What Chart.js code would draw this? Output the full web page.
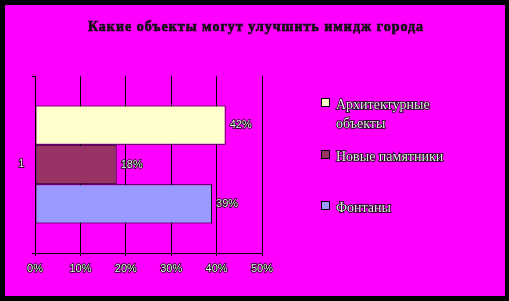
<!DOCTYPE html>
<html>
<head>
<meta charset="utf-8">
<script src="https://cdn.jsdelivr.net/npm/chart.js@4/dist/chart.umd.min.js"></script>
<style>
  html, body { margin: 0; padding: 0; background: #000; }
  canvas { display: block; }
</style>
</head>
<body>
<canvas id="c" width="509" height="301"></canvas>
<script>
// Survey: which objects can improve the city's image (share of answers, %)
const chartTitle = 'Какие объекты могут улучшить имидж города';
const categories = ['1'];
const seriesNames = ['Архитектурные объекты', 'Новые памятники', 'Фонтаны'];
const seriesValues = [[42], [18], [39]];
const seriesColors = ['#FFFFCC', '#993366', '#9999FF'];
const tickValues = [0, 10, 20, 30, 40, 50];

const MAGENTA = '#FF00FF';

// outlined text: black edge, light fill
function outlinedText(ctx, text, x, y, fill) {
  ctx.lineWidth = 1.5;
  ctx.strokeStyle = '#000';
  ctx.strokeText(text, x, y);
  ctx.fillStyle = fill;
  ctx.fillText(text, x, y);
}

const framePlugin = {
  id: 'frame',
  beforeDraw(chart) {
    const ctx = chart.ctx;
    ctx.save();
    ctx.fillStyle = '#000';
    ctx.fillRect(0, 0, chart.width, chart.height);
    ctx.fillStyle = MAGENTA;
    ctx.fillRect(5, 5, chart.width - 9, chart.height - 10);
    ctx.restore();
  }
};

const titlePlugin = {
  id: 'titleText',
  afterDraw(chart) {
    const ctx = chart.ctx;
    ctx.save();
    ctx.font = 'bold 14px "Liberation Serif", "Times New Roman", serif';
    ctx.letterSpacing = '1px';
    ctx.textAlign = 'center';
    ctx.textBaseline = 'middle';
    ctx.lineWidth = 0.6;
    ctx.strokeStyle = '#000';
    ctx.strokeText(chartTitle, 256, 27);
    ctx.fillStyle = '#111';
    ctx.fillText(chartTitle, 256, 27);
    ctx.restore();
  }
};

const valueLabelPlugin = {
  id: 'valueLabels',
  afterDatasetsDraw(chart) {
    const ctx = chart.ctx;
    ctx.save();
    ctx.font = '11px "Liberation Sans", Arial, sans-serif';
    ctx.textAlign = 'left';
    ctx.textBaseline = 'middle';
    chart.data.datasets.forEach((ds, i) => {
      const meta = chart.getDatasetMeta(i);
      meta.data.forEach((el, j) => {
        outlinedText(ctx, ds.data[j] + '%', el.x + 4, el.y, '#f0f0f0');
      });
    });
    ctx.restore();
  }
};

const legendPlugin = {
  id: 'sideLegend',
  afterDraw(chart) {
    const ctx = chart.ctx;
    const rows = [103, 155, 206];
    const boxX = 321, textX = 336, maxWidth = 130, lineH = 19;
    ctx.save();
    ctx.font = '14px "Liberation Serif", "Times New Roman", serif';
    ctx.textBaseline = 'middle';
    ctx.textAlign = 'left';
    chart.data.datasets.forEach((ds, i) => {
      const cy = rows[i];
      ctx.fillStyle = ds.backgroundColor;
      ctx.fillRect(boxX, cy - 5, 9, 9);
      ctx.lineWidth = 1;
      ctx.strokeStyle = '#000';
      ctx.strokeRect(boxX + 0.5, cy - 4.5, 8, 8);
      // wrap the label into lines that fit the legend column
      const words = ds.label.split(' ');
      const lines = [];
      let cur = '';
      words.forEach(w => {
        const t = cur ? cur + ' ' + w : w;
        if (cur && ctx.measureText(t).width > maxWidth) { lines.push(cur); cur = w; }
        else cur = t;
      });
      if (cur) lines.push(cur);
      lines.forEach((ln, k) => outlinedText(ctx, ln, textX, cy + 2 + k * lineH, '#eeeeee'));
    });
    ctx.restore();
  }
};

new Chart(document.getElementById('c'), {
  type: 'bar',
  data: {
    labels: categories,
    datasets: seriesNames.map((name, i) => ({
      label: name,
      data: seriesValues[i],
      backgroundColor: seriesColors[i],
      borderColor: '#000',
      borderWidth: 1,
      borderSkipped: false,
      categoryPercentage: 0.667,
      barPercentage: 1
    }))
  },
  options: {
    indexAxis: 'y',
    responsive: false,
    devicePixelRatio: 1,
    animation: false,
    layout: { padding: { top: 76, right: 247, bottom: 0, left: 0 } },
    plugins: {
      legend: { display: false },
      title: { display: false },
      tooltip: { enabled: false }
    },
    scales: {
      x: {
        min: tickValues[0],
        max: tickValues[tickValues.length - 1],
        afterBuildTicks(scale) { scale.ticks = tickValues.map(v => ({ value: v })); },
        afterFit(scale) { scale.height = 48; },
        grid: { color: '#000', lineWidth: 1, tickLength: 3, drawOnChartArea: true },
        border: { display: true, color: '#000', width: 1 },
        ticks: {
          callback: v => v + '%',
          padding: 6,
          color: '#f0f0f0',
          textStrokeColor: '#000',
          textStrokeWidth: 1.5,
          font: { family: '"Liberation Sans", Arial, sans-serif', size: 11 }
        }
      },
      y: {
        afterFit(scale) { scale.width = 35; },
        grid: { color: '#000', lineWidth: 1, tickLength: 3, drawOnChartArea: false, offset: true },
        border: { display: true, color: '#000', width: 1 },
        ticks: {
          padding: 8,
          color: '#f0f0f0',
          textStrokeColor: '#000',
          textStrokeWidth: 1.5,
          font: { family: '"Liberation Sans", Arial, sans-serif', size: 10 }
        }
      }
    }
  },
  plugins: [framePlugin, titlePlugin, valueLabelPlugin, legendPlugin]
});
</script>
</body>
</html>
